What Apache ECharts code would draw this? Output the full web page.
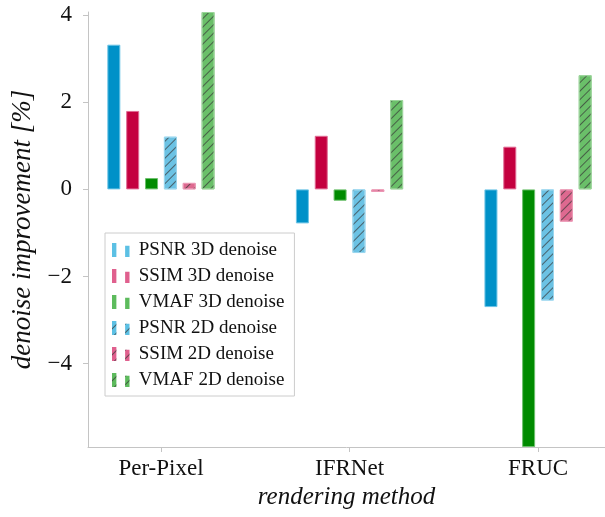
<!DOCTYPE html>
<html>
<head>
<meta charset="utf-8">
<script src="https://cdn.jsdelivr.net/npm/echarts@6/dist/echarts.min.js"></script>
<style>html,body{margin:0;padding:0;background:#fff}#c{width:605px;height:517px}</style>
</head>
<body>
<div id="c"></div>
<script>
const categories = ['Per-Pixel', 'IFRNet', 'FRUC'];
const seriesNames = ['PSNR 3D denoise', 'SSIM 3D denoise', 'VMAF 3D denoise', 'PSNR 2D denoise', 'SSIM 2D denoise', 'VMAF 2D denoise'];
const psnr3d = [3.32, -0.78, -2.70];
const ssim3d = [1.80, 1.23, 0.98];
const vmaf3d = [0.26, -0.26, -5.91];
const psnr2d = [1.21, -1.46, -2.55];
const ssim2d = [0.15, -0.06, -0.74];
const vmaf2d = [4.07, 2.05, 2.62];
const yTicks = [-4, -2, 0, 2, 4];

const values = [psnr3d, ssim3d, vmaf3d, psnr2d, ssim2d, vmaf2d];
const fills = ['#0091c8', '#c4003f', '#008b00', '#6bc2e4', '#de6990', '#6abf69'];
const edges = ['#6cc4e6', '#e06b94', '#6cc06c', '#9ad6ee', '#eb97b4', '#9bd49a'];
const legendFills = ['#5cc0e4', '#e0608e', '#5dbb5d', '#5cc0e4', '#e0608e', '#5dbb5d'];
const hatched = [false, false, false, true, true, true];

const decal = {
  symbol: 'rect', symbolSize: 1, color: 'rgba(55,55,55,0.7)',
  dashArrayX: [1, 0], dashArrayY: [1, 4.5], rotation: -Math.PI / 4
};

const serif = '"Liberation Serif", "DejaVu Serif", serif';
const chart = echarts.init(document.getElementById('c'), null, {renderer: 'canvas'});

const series = values.map((vals, i) => ({
  name: seriesNames[i],
  type: 'bar',
  barWidth: 13,
  barGap: '45%',
  data: vals.map((v, j) => [j, v]),
  itemStyle: Object.assign({color: fills[i], borderColor: edges[i], borderWidth: 1},
    hatched[i] ? {decal: decal} : {}),
  emphasis: {disabled: true}
}));

chart.setOption({
  animation: false,
  aria: {enabled: false},
  grid: {left: 88, right: 0, top: 12, bottom: 70, containLabel: false},
  xAxis: {
    type: 'value', min: -0.387, max: 2.355,
    name: 'rendering method', nameLocation: 'middle', nameGap: 38,
    nameTextStyle: {fontFamily: serif, fontStyle: 'italic', fontSize: 25, color: '#111'},
    axisLine: {show: true, onZero: false, lineStyle: {color: '#c4c4c4', width: 1}},
    axisTick: {show: true, length: 5, lineStyle: {color: '#c4c4c4'}, customValues: [0, 1, 2]},
    axisLabel: {customValues: [0, 1, 2], formatter: v => categories[Math.round(v)], fontFamily: serif, fontSize: 23, color: '#111', margin: 10},
    splitLine: {show: false}
  },
  yAxis: {
    type: 'value', min: -5.91, max: 4.07,
    name: 'denoise improvement [%]', nameLocation: 'middle', nameGap: 52,
    nameTextStyle: {fontFamily: serif, fontStyle: 'italic', fontSize: 27, color: '#111'},
    axisLine: {show: true, onZero: false, lineStyle: {color: '#c4c4c4', width: 1}},
    axisTick: {show: true, length: 5, lineStyle: {color: '#c4c4c4'}, customValues: yTicks},
    axisLabel: {customValues: yTicks, formatter: v => v < 0 ? '\u2212' + Math.abs(v) : String(v), fontFamily: serif, fontSize: 23, color: '#111', margin: 16},
    splitLine: {show: false}
  },
  legend: {
    orient: 'vertical', left: 105, top: 233,
    padding: [7, 10, 6, 7],
    borderColor: '#cccccc', borderWidth: 1, backgroundColor: '#fff',
    itemWidth: 20, itemHeight: 14, itemGap: 6,
    icon: 'path://M0,0h5v16h-5z M15,3h5v13h-5z',
    selectedMode: false,
    textStyle: {fontFamily: serif, fontSize: 19, color: '#111', lineHeight: 20, padding: [0, 0, 0, 3]},
    data: seriesNames.map((n, i) => ({name: n, itemStyle: Object.assign({color: legendFills[i], borderWidth: 0}, hatched[i] ? {decal: decal} : {})}))
  },
  series: series
});
</script>
</body>
</html>
